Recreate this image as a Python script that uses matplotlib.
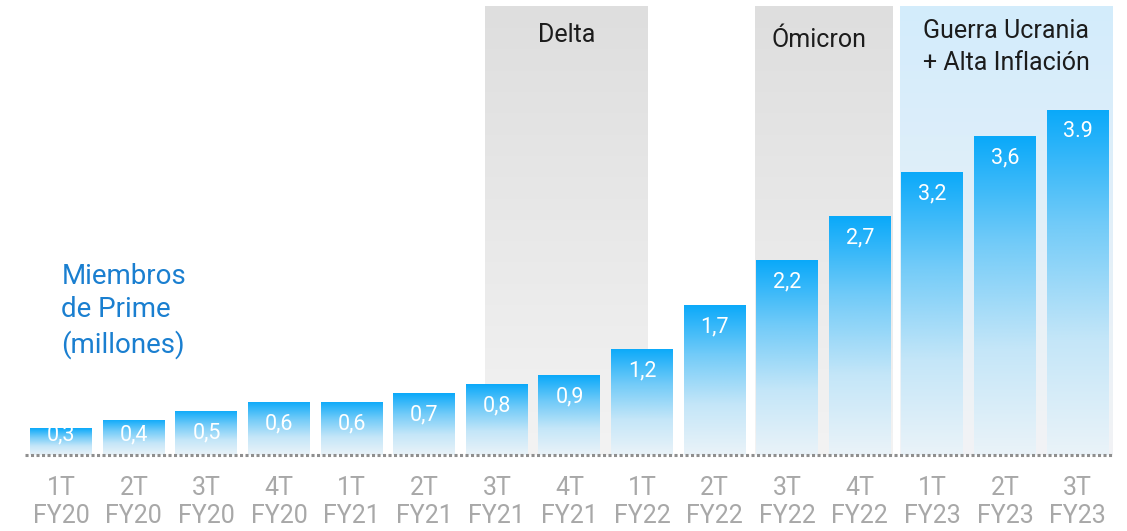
import numpy as np
import matplotlib
matplotlib.use("Agg")
import matplotlib.pyplot as plt
from matplotlib.colors import LinearSegmentedColormap

plt.rcParams['font.family'] = ['Roboto', 'DejaVu Sans']

# Quarterly Prime members (millions)
quarters = ["1T", "2T", "3T", "4T", "1T", "2T", "3T", "4T",
            "1T", "2T", "3T", "4T", "1T", "2T", "3T"]
fiscal_years = ["FY20", "FY20", "FY20", "FY20", "FY21", "FY21", "FY21", "FY21",
                "FY22", "FY22", "FY22", "FY22", "FY23", "FY23", "FY23"]
members = [0.3, 0.4, 0.5, 0.6, 0.6, 0.7, 0.8, 0.9, 1.2, 1.7, 2.2, 2.7, 3.2, 3.6, 3.9]
value_labels = ["0,3", "0,4", "0,5", "0,6", "0,6", "0,7", "0,8", "0,9",
                "1,2", "1,7", "2,2", "2,7", "3,2", "3,6", "3.9"]

# Context periods: (label, start, end, style)
periods = [
    ("Delta", 5.835, 8.08, "gray"),
    ("Ómicron", 9.55, 11.45, "gray"),
    ("Guerra Ucrania\n+ Alta Inflación", 11.55, 14.48, "blue"),
]

fig = plt.figure(figsize=(11.27, 5.31), dpi=100)
ax = fig.add_axes([0, 76 / 531, 1, 455 / 531])
px_per_unit = 88.5
ax.set_xlim(-0.844, 14.68)
ax.set_ylim(0, 455 / px_per_unit)
for s in ax.spines.values():
    s.set_visible(False)

x = np.arange(len(members))

bar_cmap = LinearSegmentedColormap.from_list(
    "bar", ["#eaf3f9", "#c4e6f8", "#72cbf8", "#0aa9fa"])
gray_cmap = LinearSegmentedColormap.from_list("gray", ["#f3f3f3", "#dedede"])
blue_cmap = LinearSegmentedColormap.from_list("blue", ["#f2f3f5", "#d3ecfc"])
grad = np.linspace(0, 1, 256).reshape(-1, 1)

band_top = 449 / px_per_unit
label_centers = {"Delta": 35, "Ómicron": 40}
for label, x0, x1, style in periods:
    cmap = gray_cmap if style == "gray" else blue_cmap
    ax.imshow(grad, cmap=cmap, origin="lower", aspect="auto",
              extent=[x0, x1, 0, band_top], zorder=0, interpolation="bicubic")
    yc = label_centers.get(label, 47)
    ax.text((x0 + x1) / 2 - (0.06 if label == "Ómicron" else 0),
            (455 - yc) / px_per_unit, label,
            ha="center", va="center", fontsize=18, color="#1c1c1c",
            linespacing=1.4, zorder=3)

bars = ax.bar(x, members, width=0.854, color="none", zorder=2)
for rect in bars:
    x0, y0 = rect.get_x(), rect.get_y()
    im = ax.imshow(grad, cmap=bar_cmap, origin="lower", aspect="auto",
                   extent=[x0, x0 + rect.get_width(), y0, y0 + rect.get_height()],
                   zorder=2, interpolation="bicubic")
    im.set_clip_path(rect)

for xi, v, lab in zip(x, members, value_labels):
    ypos = max(v - 22 / px_per_unit, 20 / px_per_unit)
    ax.text(xi, ypos, lab, ha="center", va="center", color="white",
            fontsize=15.5, zorder=4)

ax.set_xlim(-0.844, 14.68)
ax.set_ylim(0, 455 / px_per_unit)

ax.plot([-0.5, 14.5], [0, 0], color="#8f8f8f", lw=2.2,
        linestyle=(0, (1.0, 0.8)), dash_capstyle="butt", zorder=5, clip_on=False)

ax.set_yticks([])
ax.set_xticks(x)
ax.set_xticklabels([f"{q}\n{fy}" for q, fy in zip(quarters, fiscal_years)],
                   fontsize=18, color="#a8a8a8", linespacing=1.2)
ax.tick_params(axis="x", length=0, pad=15)

ax.text(0.0, (455 - 311) / px_per_unit, "Miembros\nde Prime\n(millones)",
        ha="left", va="center",
        fontsize=20, color="#1a7fd0", linespacing=1.3, zorder=4)

fig.savefig("out.png", dpi=100)
